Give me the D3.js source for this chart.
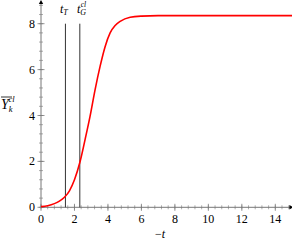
<!DOCTYPE html>
<html>
<head>
<meta charset="utf-8">
<script src="https://cdn.jsdelivr.net/npm/d3@7"></script>
<style>
  body { margin: 0; background: #fff; }
  svg { display: block; }
</style>
</head>
<body>
<svg width="292" height="241"></svg>
<script>
var tValues = [0, 0.4, 0.8, 1.1, 1.4, 1.7, 2.0, 2.32, 2.63, 2.93, 3.23, 3.53, 3.83, 4.13, 4.43, 4.73, 5.33, 6, 7, 9, 12, 15];
var yValues = [0.03, 0.07, 0.16, 0.27, 0.44, 0.72, 1.2, 1.95, 2.94, 3.96, 5.12, 6.14, 7.0, 7.6, 7.92, 8.1, 8.28, 8.33, 8.35, 8.35, 8.35, 8.35];
var xTicks = [0, 2, 4, 6, 8, 10, 12, 14];
var yTicks = [0, 2, 4, 6, 8];
var markers = [{name: "T", t: 1.46}, {name: "G", t: 2.32}];

var serif = "'Liberation Serif', 'DejaVu Serif', serif";
var axisColor = "#777";

var svg = d3.select("svg");
var x = d3.scaleLinear().domain([0, 14]).range([41, 275.3]);
var y = d3.scaleLinear().domain([0, 8]).range([207.3, 23.7]);

var minorX = d3.range(0, 14.9, 0.4);
var minorY = d3.range(0, 8.9, 0.4);

// x axis
var gx = svg.append("g").attr("stroke", axisColor);
gx.append("line").attr("x1", x(0)).attr("x2", x(14.9)).attr("y1", y(0)).attr("y2", y(0)).attr("stroke-width", 1);
gx.selectAll(".mx").data(minorX).enter().append("line")
  .attr("x1", function(d) { return x(d); }).attr("x2", function(d) { return x(d); })
  .attr("y1", y(0) - 2).attr("y2", y(0) + 2).attr("stroke-width", 0.6);
gx.selectAll(".Mx").data(xTicks).enter().append("line")
  .attr("x1", function(d) { return x(d); }).attr("x2", function(d) { return x(d); })
  .attr("y1", y(0) - 3.5).attr("y2", y(0) + 3.5).attr("stroke-width", 0.8);
svg.append("path").attr("d", "M" + (x(14.9) + 3) + "," + y(0) + "l-4,-2.2l0,4.4z").attr("fill", "#000");

// y axis
var gy = svg.append("g").attr("stroke", axisColor);
gy.append("line").attr("x1", x(0)).attr("x2", x(0)).attr("y1", y(0)).attr("y2", y(8.9)).attr("stroke-width", 1);
gy.selectAll(".my").data(minorY).enter().append("line")
  .attr("y1", function(d) { return y(d); }).attr("y2", function(d) { return y(d); })
  .attr("x1", x(0) - 2).attr("x2", x(0) + 2).attr("stroke-width", 0.6);
gy.selectAll(".My").data(yTicks).enter().append("line")
  .attr("y1", function(d) { return y(d); }).attr("y2", function(d) { return y(d); })
  .attr("x1", x(0) - 3.5).attr("x2", x(0) + 3.5).attr("stroke-width", 0.8);
svg.append("path").attr("d", "M" + x(0) + "," + (y(8.9) - 3) + "l-2.2,4l4.4,0z").attr("fill", "#000");

// tick labels
svg.selectAll(".xl").data(xTicks).enter().append("text")
  .attr("font-family", serif).attr("x", function(d) { return x(d); }).attr("y", 223)
  .attr("text-anchor", "middle").attr("font-size", 12).text(function(d) { return d; });
svg.selectAll(".yl").data(yTicks).enter().append("text")
  .attr("font-family", serif).attr("x", 35).attr("y", function(d) { return y(d) + 4; })
  .attr("text-anchor", "end").attr("font-size", 12).text(function(d) { return d; });

// axis labels
var xl = svg.append("text").attr("font-family", serif).attr("x", 160).attr("y", 238)
  .attr("text-anchor", "middle").attr("font-size", 12);
xl.append("tspan").text("−");
xl.append("tspan").attr("font-style", "italic").text("t");

var yl = svg.append("text").attr("font-family", serif).attr("x", 1).attr("y", 109).attr("font-size", 14);
yl.append("tspan").attr("font-style", "italic").text("Y");
yl.append("tspan").attr("font-style", "italic").attr("font-size", 8.5).attr("dx", 0).attr("dy", 3).text("k");
yl.append("tspan").attr("font-style", "italic").attr("font-size", 8.5).attr("dx", -4).attr("dy", -10).text("cl");
svg.append("line").attr("x1", 1).attr("x2", 12).attr("y1", 97).attr("y2", 97).attr("stroke", "#000").attr("stroke-width", 0.8);

// vertical markers
svg.selectAll(".vm").data(markers).enter().append("line")
  .attr("x1", function(d) { return x(d.t); }).attr("x2", function(d) { return x(d.t); })
  .attr("y1", y(0)).attr("y2", y(8)).attr("stroke", "#333").attr("stroke-width", 1);
var tT = svg.append("text").attr("font-family", serif).attr("x", 60).attr("y", 13).attr("font-size", 12);
tT.append("tspan").attr("font-style", "italic").text("t");
tT.append("tspan").attr("font-style", "italic").attr("font-size", 8).attr("dy", 2).text("T");
var tG = svg.append("text").attr("font-family", serif).attr("x", 77).attr("y", 13).attr("font-size", 12);
tG.append("tspan").attr("font-style", "italic").text("t");
tG.append("tspan").attr("font-style", "italic").attr("font-size", 8).attr("dy", 2).text("G");
tG.append("tspan").attr("font-style", "italic").attr("font-size", 7.5).attr("dx", -5.5).attr("dy", -8).text("cl");

// curve
var pts = tValues.map(function(t, i) { return [t, yValues[i]]; });
var line = d3.line().x(function(d) { return x(d[0]); }).y(function(d) { return y(d[1]); }).curve(d3.curveMonotoneX);
svg.append("path").datum(pts).attr("d", line).attr("fill", "none").attr("stroke", "#f00").attr("stroke-width", 1.6);
</script>
</body>
</html>
